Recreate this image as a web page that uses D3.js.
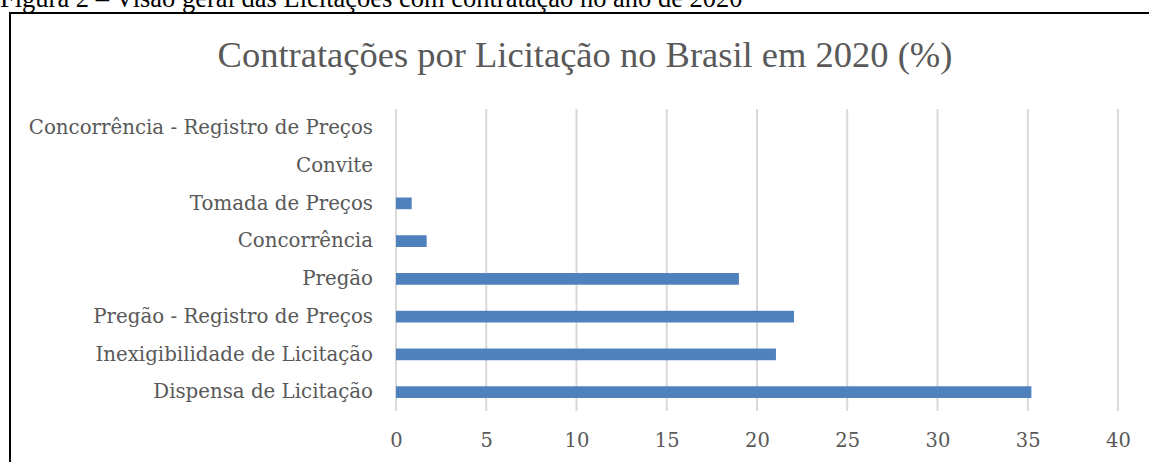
<!DOCTYPE html>
<meta charset="utf-8">
<script src="https://d3js.org/d3.v7.min.js"></script>
<style>
body { margin: 0; background: #fff; }
</style>
<body>
<div id="chart"></div>
<script>

// data
const categories = [
  "Concorrência - Registro de Preços",
  "Convite",
  "Tomada de Preços",
  "Concorrência",
  "Pregão",
  "Pregão - Registro de Preços",
  "Inexigibilidade de Licitação",
  "Dispensa de Licitação"
];
const values = [0, 0, 0.87, 1.7, 19.0, 22.05, 21.05, 35.2];
const xTicks = [0, 5, 10, 15, 20, 25, 30, 35, 40];

const W = 1149, H = 462;
const margin = {top: 109, right: 31, bottom: 51, left: 396};
const width = W - margin.left - margin.right,
      height = H - margin.top - margin.bottom;

const svg = d3.select("#chart").append("svg")
    .attr("width", W)
    .attr("height", H);

// caption above the box (cut off at the top, as in the scan)
svg.append("text")
    .attr("x", 0)
    .attr("y", 7)
    .style("font-family", "Liberation Serif")
    .style("font-size", "26.5px")
    .attr("fill", "#000")
    .text("Figura 2 – Visão geral das Licitações com contratação no ano de 2020");

// box border (top + left, the rest is outside the crop)
svg.append("path")
    .attr("d", `M10,${H} L10,13 L${W},13`)
    .attr("fill", "none")
    .attr("stroke", "#000")
    .attr("stroke-width", 2);

// title
svg.append("text")
    .attr("x", 585)
    .attr("y", 67)
    .attr("text-anchor", "middle")
    .style("font-family", "Liberation Serif")
    .style("font-size", "36.5px")
    .attr("fill", "#595959")
    .text("Contratações por Licitação no Brasil em 2020 (%)");

const g = svg.append("g")
    .attr("transform", `translate(${margin.left},${margin.top})`);

const x = d3.scaleLinear()
    .domain([0, 40])
    .range([0, width]);

const y = d3.scaleBand()
    .domain(categories)
    .range([0, height])
    .paddingInner(0.69)
    .paddingOuter(0.345);

// gridlines
g.append("g")
  .selectAll("line")
  .data(xTicks)
  .join("line")
    .attr("x1", d => x(d))
    .attr("x2", d => x(d))
    .attr("y1", 0)
    .attr("y2", height)
    .attr("stroke", "#d9d9d9")
    .attr("stroke-width", 2);

// bars
g.append("g")
  .selectAll("rect")
  .data(values)
  .join("rect")
    .attr("x", x(0))
    .attr("y", (d, i) => y(categories[i]))
    .attr("width", d => x(d) - x(0))
    .attr("height", y.bandwidth())
    .attr("fill", "#4f81bd");

// x axis labels
const xAxis = g.append("g")
    .attr("transform", `translate(0,${height})`)
    .call(d3.axisBottom(x).tickValues(xTicks).tickSize(0).tickPadding(22));
xAxis.select(".domain").remove();
xAxis.selectAll("text")
    .style("font-family", "DejaVu Serif")
    .style("font-size", "19.5px")
    .attr("fill", "#595959");

// y axis labels
const yAxis = g.append("g")
    .call(d3.axisLeft(y).tickSize(0).tickPadding(23));
yAxis.select(".domain").remove();
yAxis.selectAll("text")
    .style("font-family", "DejaVu Serif")
    .style("font-size", "19.8px")
    .attr("fill", "#595959");

</script>
</body>
